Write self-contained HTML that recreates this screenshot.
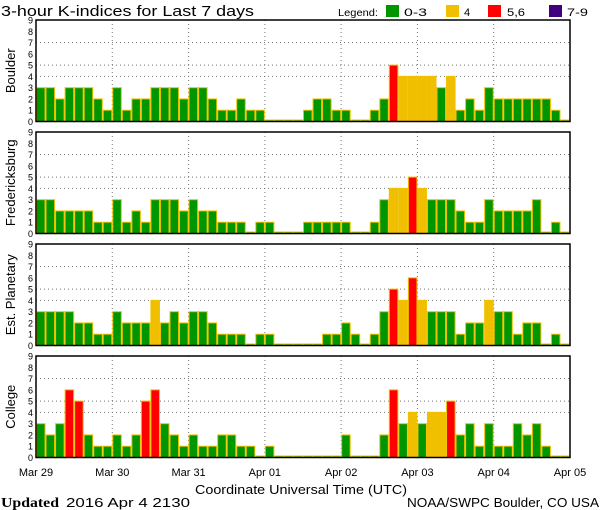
<!DOCTYPE html>
<html><head><meta charset="utf-8">
<style>
html,body{margin:0;padding:0;background:#fff;}
svg{display:block;}
text{font-family:"Liberation Sans",sans-serif;fill:#000;}
</style></head>
<body>
<svg id="chart" width="600" height="510" viewBox="0 0 600 510" xmlns="http://www.w3.org/2000/svg" xml:space="preserve">
<text x="1" y="16" font-size="15" textLength="253" lengthAdjust="spacingAndGlyphs">3-hour K-indices for Last 7 days</text>
<g>
<text x="338" y="16" font-size="10" textLength="40" lengthAdjust="spacingAndGlyphs">Legend:</text>
<g><rect x="386" y="5" width="13" height="12" fill="#009600"/><text x="404" y="16" font-size="11" textLength="23" lengthAdjust="spacingAndGlyphs">0-3</text></g>
<g><rect x="446" y="5" width="13" height="12" fill="#f0c000"/><text x="464" y="16" font-size="11">4</text></g>
<g><rect x="488" y="5" width="13" height="12" fill="#ff0000"/><text x="507" y="16" font-size="11" textLength="18" lengthAdjust="spacingAndGlyphs">5,6</text></g>
<g><rect x="549" y="5" width="13" height="12" fill="#400080"/><text x="567" y="16" font-size="11" textLength="21" lengthAdjust="spacingAndGlyphs">7-9</text></g>
</g>
<g id="panels"></g>
<g id="xlabels"></g>
<text x="301" y="494" font-size="13" text-anchor="middle" textLength="212" lengthAdjust="spacingAndGlyphs">Coordinate Universal Time (UTC)</text>
<text x="1" y="507" font-size="14" font-weight="bold" textLength="58" lengthAdjust="spacingAndGlyphs" style="font-family:'Liberation Serif',serif">Updated</text>
<text x="66" y="507" font-size="13" textLength="124" lengthAdjust="spacingAndGlyphs">2016 Apr  4 2130</text>
<text x="599" y="507" font-size="13" text-anchor="end" textLength="192" lengthAdjust="spacingAndGlyphs">NOAA/SWPC Boulder, CO USA</text>
</svg>
<script>
const stations = ["Boulder","Fredericksburg","Est. Planetary","College"];
const boulder = [3,3,2,3,3,3,2,1, 3,1,2,2,3,3,3,2, 3,3,2,1,1,2,1,1, 0,0,0,0,1,2,2,1, 1,0,0,1,2,5,4,4, 4,4,3,4,1,2,1,3, 2,2,2,2,2,2,1,0];
const fredericksburg = [3,3,2,2,2,2,1,1, 3,1,2,1,3,3,3,2, 3,2,2,1,1,1,0,1, 1,0,0,0,1,1,1,1, 1,0,0,1,3,4,4,5, 4,3,3,3,2,1,1,3, 2,2,2,2,3,0,1,0];
const estPlanetary = [3,3,3,3,2,2,1,1, 3,2,2,2,4,2,3,2, 3,3,2,1,1,1,0,1, 1,0,0,0,0,0,1,1, 2,1,0,1,3,5,4,6, 4,3,3,3,1,2,2,4, 3,3,1,2,2,0,1,0];
const college = [3,2,3,6,5,2,1,1, 2,1,2,5,6,3,2,1, 2,1,1,2,2,1,1,0, 1,0,0,0,0,0,0,0, 2,0,0,0,2,6,3,4, 3,4,4,5,2,3,1,3, 1,1,3,2,3,1,0,0];
const dayLabels = ["Mar 29","Mar 30","Mar 31","Apr 01","Apr 02","Apr 03","Apr 04","Apr 05"];
const yTicks = [0,1,2,3,4,5,6,7,8,9];

const series = [boulder, fredericksburg, estPlanetary, college];
const NS = "http://www.w3.org/2000/svg";
const X0 = 36, X1 = 570, PH = 101.5;
const panelTops = [20, 132, 244, 356];
const nBars = boulder.length;
const bw = (X1 - X0) / nBars;
function xPos(i){ return X0 + i * bw; }
function mk(tag, attrs, parent){ const e=document.createElementNS(NS,tag); for(const k in attrs) e.setAttribute(k,attrs[k]); parent.appendChild(e); return e; }
function color(v){ return v<=3?"#009600":v==4?"#f0c000":v<=6?"#ff0000":"#400080"; }

const panels = document.getElementById("panels");
series.forEach((data, p) => {
  const top = panelTops[p], bot = top + PH;
  const yPos = v => bot - v * PH / 9;
  const g = mk("g", {}, panels);
  
  
  [4,5,7].forEach(v => {
    const l = mk("line", {x1:X0, x2:X1, y1:yPos(v), y2:yPos(v), stroke:"#777", "stroke-width":1, "stroke-dasharray":"1,3"}, g);
    
    
  });
  for (let d = 1; d < 7; d++) {
    const x = xPos(d*8);
    const l = mk("line", {x1:x, x2:x, y1:top, y2:bot, stroke:"#777", "stroke-width":1, "stroke-dasharray":"1,3"}, g);
    
    
  }
  data.forEach((v, i) => {
    const h = Math.max(v * PH / 9, 1.5);
    const r = mk("rect", {x:xPos(i)+0.5, y:bot-h, width:bw-1, height:h, fill:color(v), stroke:"#f0c000", "stroke-width":1}, g);
    
    
  });
  const f = mk("rect", {x:X0, y:top, width:X1-X0, height:PH, fill:"none", stroke:"#000", "stroke-width":1.5}, g);
  
  
  yTicks.forEach(v => {
    const t = mk("text", {x:33, y:yPos(v)+3.5, "font-size":9, "text-anchor":"end"}, g);
    t.textContent = v;
    
    
  });
  const cy = top + PH/2;
  const st = mk("text", {x:0, y:0, "font-size":13, "text-anchor":"middle", transform:`translate(15,${cy}) rotate(-90)`}, g);
  st.textContent = stations[p];
  
  
});
const xl = document.getElementById("xlabels");
dayLabels.forEach((lab, d) => {
  const t = mk("text", {x:xPos(d*8), y:476, "font-size":11, "text-anchor":"middle"}, xl);
  t.textContent = lab;
  
  
});
</script>
</body></html>
